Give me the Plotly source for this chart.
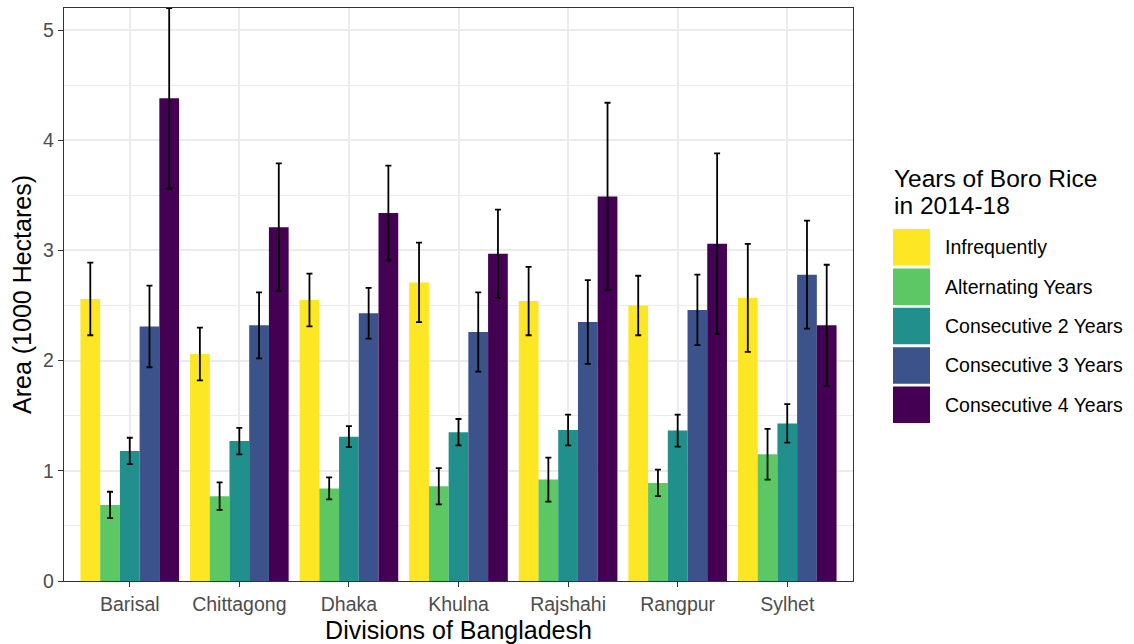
import plotly.graph_objects as go

# Divisions (x categories) and cropping-frequency groups
divisions = ["Barisal", "Chittagong", "Dhaka", "Khulna", "Rajshahi", "Rangpur", "Sylhet"]
groups = ["Infrequently", "Alternating Years", "Consecutive 2 Years",
          "Consecutive 3 Years", "Consecutive 4 Years"]
colors = ["#FDE725", "#5DC863", "#21908C", "#3B528B", "#440154"]

# Mean area (1000 ha) per group, ordered as in `divisions`
infrequently = [2.56, 2.06, 2.55, 2.71, 2.54, 2.50, 2.57]
alternating = [0.69, 0.77, 0.84, 0.86, 0.92, 0.89, 1.15]
consecutive2 = [1.18, 1.27, 1.31, 1.35, 1.37, 1.365, 1.43]
consecutive3 = [2.31, 2.32, 2.43, 2.26, 2.35, 2.46, 2.78]
consecutive4 = [4.38, 3.21, 3.34, 2.97, 3.49, 3.06, 2.32]

# Half-width of the error bars
infrequently_err = [0.33, 0.24, 0.24, 0.36, 0.31, 0.27, 0.49]
alternating_err = [0.12, 0.125, 0.10, 0.165, 0.20, 0.12, 0.23]
consecutive2_err = [0.12, 0.12, 0.095, 0.12, 0.14, 0.145, 0.175]
consecutive3_err = [0.37, 0.30, 0.23, 0.36, 0.38, 0.32, 0.49]
consecutive4_err = [0.82, 0.58, 0.43, 0.40, 0.85, 0.82, 0.55]

means = [infrequently, alternating, consecutive2, consecutive3, consecutive4]
errors = [infrequently_err, alternating_err, consecutive2_err, consecutive3_err, consecutive4_err]

FONT = "Liberation Sans, Arial, sans-serif"

fig = go.Figure()
for name, color, y, e in zip(groups, colors, means, errors):
    fig.add_trace(go.Bar(
        name=name, x=divisions, y=y,
        marker=dict(color=color, line=dict(width=0)),
        error_y=dict(type="data", array=e, visible=True,
                     color="black", thickness=1.8, width=3),
        showlegend=False,
    ))

y_top = max(m + s for ys, es in zip(means, errors) for m, s in zip(ys, es))

# Plot-area geometry in pixels (used for the hand-built legend)
W, H = 1134, 644
L, R, T, B = 64, 281, 8, 63
pw, ph = W - L - R, H - T - B


def px(x):
    return (x - L) / pw


def py(y):
    return (H - B - y) / ph


shapes = []
annotations = []

# Legend title (two lines)
annotations.append(dict(text="Years of Boro Rice", x=px(892), y=py(178), xref="paper", yref="paper",
                        xanchor="left", yanchor="middle", showarrow=False,
                        font=dict(family=FONT, size=24.5, color="black")))
annotations.append(dict(text="in 2014-18", x=px(892), y=py(205), xref="paper", yref="paper",
                        xanchor="left", yanchor="middle", showarrow=False,
                        font=dict(family=FONT, size=24.5, color="black")))

# Legend keys and labels
key_top = 229
key_step = 39.4
key_h = 36.5
for i, (name, color) in enumerate(zip(groups, colors)):
    y0 = key_top + i * key_step
    shapes.append(dict(type="rect", xref="paper", yref="paper",
                       x0=px(893), x1=px(930), y0=py(y0), y1=py(y0 + key_h),
                       fillcolor=color, line=dict(width=0)))
    annotations.append(dict(text=name, x=px(943), y=py(y0 + key_h / 2), xref="paper", yref="paper",
                            xanchor="left", yanchor="middle", showarrow=False,
                            font=dict(family=FONT, size=19.5, color="black")))

fig.update_layout(
    width=W, height=H,
    margin=dict(l=L, r=R, t=T, b=B, pad=0, autoexpand=False),
    paper_bgcolor="white", plot_bgcolor="white",
    barmode="group", bargap=0.1, bargroupgap=0,
    font=dict(family=FONT, color="black"),
    shapes=shapes, annotations=annotations,
    xaxis=dict(
        type="category", range=[-0.6, len(divisions) - 0.4], automargin=False,
        showgrid=True, gridcolor="#EBEBEB", gridwidth=1.8,
        showline=True, mirror=True, linecolor="#333333", linewidth=1.3,
        ticks="outside", ticklen=5, tickwidth=1.3, tickcolor="#333333",
        tickfont=dict(family=FONT, size=19.5, color="#4D4D4D"),
        title=dict(text="Divisions of Bangladesh", standoff=9,
                   font=dict(family=FONT, size=25, color="black")),
        zeroline=False,
    ),
    yaxis=dict(
        range=[0, y_top], tickmode="array", tickvals=[0, 1, 2, 3, 4, 5], automargin=False,
        showgrid=True, gridcolor="#EBEBEB", gridwidth=1.8,
        minor=dict(tickvals=[0.5, 1.5, 2.5, 3.5, 4.5], showgrid=True,
                   gridcolor="#EBEBEB", gridwidth=0.9, ticks=""),
        showline=True, mirror=True, linecolor="#333333", linewidth=1.3,
        ticks="outside", ticklen=5, tickwidth=1.3, tickcolor="#333333",
        tickfont=dict(family=FONT, size=19.5, color="#4D4D4D"),
        title=dict(text="Area (1000 Hectares)", standoff=4,
                   font=dict(family=FONT, size=25, color="black")),
        zeroline=False,
    ),
)

fig.write_html("out.html")
